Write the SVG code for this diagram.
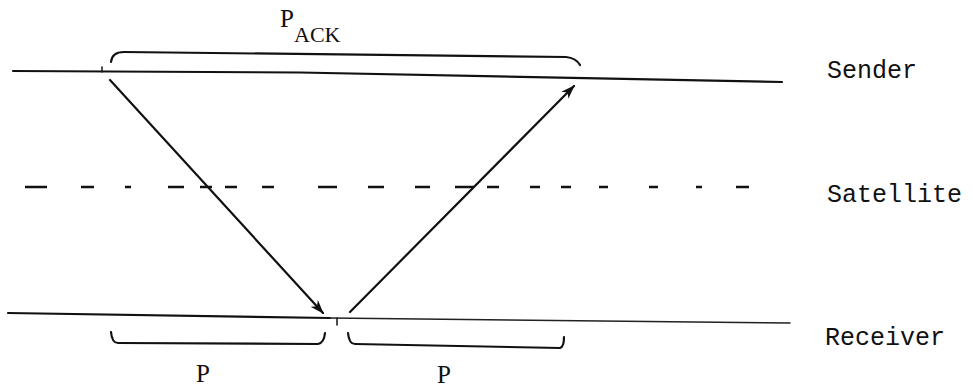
<svg xmlns="http://www.w3.org/2000/svg" width="973" height="390" viewBox="0 0 973 390">
<style>
.ln{fill:none;stroke:#111;stroke-width:2.2;stroke-linecap:round;stroke-linejoin:round}
.thin{fill:none;stroke:#222;stroke-width:1.6;stroke-linecap:round}
.dash{fill:none;stroke:#111;stroke-width:2.4}
.t{font-family:"Liberation Mono","DejaVu Sans Mono",monospace;font-size:25px;fill:#111}
.s{font-family:"Liberation Serif","DejaVu Serif",serif;font-size:25px;fill:#111}
</style>
<defs>
<marker id="ah" viewBox="0 0 14 10" refX="13" refY="5" markerWidth="14" markerHeight="10" markerUnits="userSpaceOnUse" orient="auto">
<path d="M0,0 L14,5 L0,10 L4,5 z" fill="#111"/>
</marker>
</defs>
<rect width="973" height="390" fill="#fff"/>
<g id="sender">
<polyline class="ln" points="13,71 300,72.5 782,82"/>
<path class="thin" d="M102,67 L102,72"/>
<text class="t" x="827" y="78">Sender</text>
</g>
<g id="satellite">
<path class="dash" d="M25,187H47 M81,187H94 M125,187H131 M168,187H184 M200,187H212 M225,187H237 M262,187H274 M318,187H337 M368,187H384 M415,187H430 M455,187H474 M487,187H499 M530,187H540 M561,187H571 M599,187H608 M649,187H658 M696,187H702 M736,187H749"/>
<text class="t" x="827" y="202">Satellite</text>
</g>
<g id="receiver">
<polyline class="ln" points="8,313 330,318"/>
<polyline class="thin" points="330,318 790,323"/>
<path class="thin" d="M337,318 L337,325"/>
<text class="t" x="825" y="345">Receiver</text>
</g>
<g id="pack">
<path class="ln" d="M111,62 Q112,52 124,52 L566,57 Q576,58 580,65"/>
<text class="s" x="280" y="27">P</text>
<text class="s" x="294" y="42" style="font-size:22px">ACK</text>
</g>
<g id="p-left">
<path class="ln" d="M111,332 Q112,343 118,343 L318,344 Q324,343 325,333"/>
<text class="s" x="196" y="382">P</text>
</g>
<g id="p-right">
<path class="ln" d="M348,333 Q349,344 355,344 L560,348 Q564,347 564,337"/>
<text class="s" x="437" y="383">P</text>
</g>
<g id="connectors">
<line class="ln" x1="110" y1="80" x2="323" y2="313" marker-end="url(#ah)"/>
<line class="ln" x1="350" y1="312" x2="574" y2="86" marker-end="url(#ah)"/>
</g>
</svg>
